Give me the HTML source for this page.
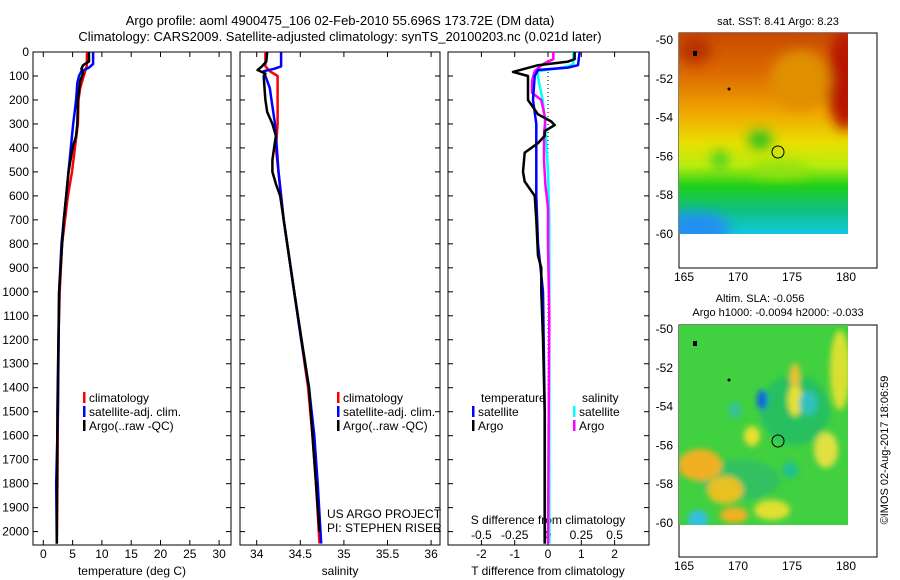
<!DOCTYPE html>
<html><head><meta charset="utf-8"><style>
body{margin:0;background:#fff;}
svg{display:block;font-family:"Liberation Sans",sans-serif;font-size:12px;}
</style></head><body>
<svg id="c" width="900" height="580" viewBox="0 0 900 580">
<defs>
<filter id="bl" x="-50%" y="-50%" width="200%" height="200%"><feGaussianBlur stdDeviation="6"/></filter>
<filter id="bl2" x="-50%" y="-50%" width="200%" height="200%"><feGaussianBlur stdDeviation="3"/></filter>
<clipPath id="m1"><rect x="679" y="33" width="169" height="201"/></clipPath>
<clipPath id="m2"><rect x="679" y="325" width="169" height="200"/></clipPath>
<linearGradient id="g1" x1="0" y1="0" x2="0" y2="1">
<stop offset="0" stop-color="#c84a00"/><stop offset="0.2" stop-color="#dc6a00"/>
<stop offset="0.4" stop-color="#f0a800"/><stop offset="0.55" stop-color="#e8e000"/>
<stop offset="0.66" stop-color="#b8ec10"/><stop offset="0.76" stop-color="#20d018"/>
<stop offset="0.88" stop-color="#10c080"/><stop offset="1" stop-color="#10c8e0"/></linearGradient>
</defs>
<g id="title">
<text x="340" y="25" text-anchor="middle" font-size="13">Argo profile: aoml 4900475_106 02-Feb-2010 55.696S 173.72E (DM data)</text>
<text x="340" y="41" text-anchor="middle" font-size="13">Climatology: CARS2009. Satellite-adjusted climatology: synTS_20100203.nc (0.021d later)</text>
</g>
<g id="axes"></g>
<g id="series"></g>
<g>
<text x="778" y="25" text-anchor="middle" font-size="11">sat. SST: 8.41  Argo: 8.23</text>
<rect x="679" y="33" width="198" height="235" fill="#fff" stroke="#000"/>
<g clip-path="url(#m1)">
<rect x="679" y="33" width="169" height="201" fill="url(#g1)"/>
<g filter="url(#bl)">
<ellipse cx="845" cy="80" rx="18" ry="50" fill="#b81800"/>
<ellipse cx="695" cy="50" rx="16" ry="14" fill="#b83000"/>
<ellipse cx="760" cy="140" rx="12" ry="9" fill="#20c020"/>
<ellipse cx="720" cy="160" rx="8" ry="10" fill="#40d020"/>
<ellipse cx="695" cy="228" rx="35" ry="16" fill="#2090f0"/>
<ellipse cx="800" cy="80" rx="30" ry="30" fill="#e09000"/>
<ellipse cx="780" cy="170" rx="30" ry="8" fill="#90e010"/>
</g></g>
<circle cx="778" cy="152" r="6" fill="none" stroke="#000"/>
<rect x="693" y="51" width="4" height="5" fill="#000"/>
<circle cx="729" cy="89" r="1.5" fill="#000"/>
</g>
<g>
<text x="760" y="302" text-anchor="middle" font-size="11">Altim. SLA: -0.056</text>
<text x="778" y="316" text-anchor="middle" font-size="11">Argo h1000: -0.0094 h2000: -0.033</text>
<rect x="679" y="325" width="198" height="232" fill="#fff" stroke="#000"/>
<g clip-path="url(#m2)">
<rect x="679" y="325" width="169" height="200" fill="#40d040"/>
<g filter="url(#bl2)">
<ellipse cx="795" cy="410" rx="35" ry="35" fill="#28c060"/>
<ellipse cx="740" cy="480" rx="40" ry="20" fill="#30c060"/>
<ellipse cx="700" cy="465" rx="22" ry="16" fill="#f0b020"/>
<ellipse cx="725" cy="490" rx="18" ry="14" fill="#e8c020"/>
<ellipse cx="734" cy="515" rx="14" ry="8" fill="#f0b020"/>
<ellipse cx="795" cy="400" rx="7" ry="16" fill="#e8e030"/>
<ellipse cx="795" cy="375" rx="5" ry="12" fill="#f0c030"/>
<ellipse cx="840" cy="370" rx="10" ry="40" fill="#d8e030"/>
<ellipse cx="762" cy="400" rx="5" ry="10" fill="#1060e0"/>
<ellipse cx="808" cy="403" rx="9" ry="12" fill="#30c0c0"/>
<ellipse cx="698" cy="520" rx="10" ry="10" fill="#30c0e0"/>
<ellipse cx="772" cy="510" rx="18" ry="10" fill="#e0e030"/>
<ellipse cx="752" cy="436" rx="8" ry="10" fill="#e8e030"/>
<ellipse cx="826" cy="450" rx="12" ry="18" fill="#e0e040"/>
<ellipse cx="790" cy="470" rx="8" ry="8" fill="#20c090"/>
<ellipse cx="735" cy="410" rx="6" ry="8" fill="#30c0a0"/>
</g></g>
<circle cx="778" cy="441" r="6" fill="none" stroke="#000"/>
<rect x="693" y="341" width="4" height="5" fill="#000"/>
<circle cx="729" cy="380" r="1.5" fill="#000"/>
</g>
<text transform="translate(888,450) rotate(-90)" text-anchor="middle" font-size="11">©IMOS 02-Aug-2017 18:06:59</text>
<text x="327" y="518">US ARGO PROJECT</text>
<text x="327" y="532">PI: STEPHEN RISER</text>
</svg>
<script>
const depthTicks=[0,100,200,300,400,500,600,700,800,900,1000,1100,1200,1300,1400,1500,1600,1700,1800,1900,2000];
const tempTicks=[0,5,10,15,20,25,30];
const salTicks=[34,34.5,35,35.5,36];
const tdTicks=[-2,-1,0,1,2];
const sdTicks=[-0.5,-0.25,0,0.25,0.5];
const lonTicks=[165,170,175,180];
const latTicks=[-50,-52,-54,-56,-58,-60];

const tClimD=[0,60,100,150,200,300,400,500,600,700,800,1000,1200,1500,1800,2050];
const tClimV=[7.45,7.4,6.9,6.3,6.0,5.9,5.4,4.9,4.2,3.7,3.2,2.8,2.6,2.5,2.4,2.3];
const tSatD=[0,50,65,80,100,130,200,300,400,500,600,700,800,1000,1500,1800,2050];
const tSatV=[8.5,8.5,7.8,6.5,6.1,5.8,5.6,5.1,4.7,4.3,3.9,3.5,3.1,2.7,2.5,2.2,2.3];
const tArgD=[0,40,55,70,90,120,200,300,350,400,500,600,700,800,1000,1500,2050];
const tArgV=[7.8,7.8,6.8,6.5,6.8,6.3,5.9,5.8,5.6,5.0,4.3,3.9,3.5,3.2,2.7,2.4,2.3];

const sClimD=[0,60,80,100,300,400,500,600,700,800,1000,1200,1400,1600,1800,2050];
const sClimV=[34.10,34.10,34.15,34.24,34.24,34.22,34.25,34.28,34.31,34.35,34.43,34.51,34.59,34.64,34.68,34.72];
const sSatD=[0,60,70,80,100,150,200,300,400,500,600,700,800,1000,1200,1400,1600,1800,2050];
const sSatV=[34.28,34.28,34.20,34.08,34.10,34.15,34.17,34.21,34.23,34.25,34.28,34.31,34.35,34.43,34.51,34.60,34.66,34.70,34.74];
const sArgD=[0,40,60,75,90,100,150,200,250,300,350,400,450,500,550,600,800,1000,1400,2000];
const sArgV=[34.12,34.11,34.06,34.01,34.10,34.08,34.09,34.10,34.12,34.18,34.22,34.20,34.18,34.18,34.22,34.27,34.35,34.43,34.60,34.72];

const dTArgD=[0,30,40,55,83,100,150,200,260,290,305,330,350,380,420,500,540,600,700,850,900,1000,1200,1500,2050];
const dTArgV=[0.8,0.8,0.6,-0.3,-1.05,-0.6,-0.6,-0.6,-0.3,0.1,0.2,-0.1,-0.1,-0.3,-0.7,-0.75,-0.7,-0.4,-0.35,-0.3,-0.2,-0.2,-0.15,-0.1,-0.1];
const dTSatD=[0,55,65,75,100,200,300,400,600,800,1000,1500,2050];
const dTSatV=[0.95,0.9,0.6,-0.3,-0.4,-0.45,-0.35,-0.35,-0.35,-0.3,-0.15,-0.1,-0.1];
const dSArgD=[0,30,45,60,80,120,170,200,280,350,450,550,650,800,1100,2050];
const dSArgV=[0.04,0.04,-0.02,-0.06,-0.1,-0.12,-0.12,-0.05,-0.02,-0.03,-0.03,-0.02,0,0,0.01,0];
const dSSatD=[0,50,60,70,80,120,200,300,500,700,2050];
const dSSatV=[0.19,0.19,0.15,0.05,-0.08,-0.07,-0.04,-0.02,0,0.01,0.01];

const NS='http://www.w3.org/2000/svg';
const yD=d=>52+d*0.2398;
const xT=v=>43.3+v*5.86;
const xS=v=>256.7+(v-34)*87.2;
const xDT=v=>548+v*33.3;
const xDS=v=>548+v*133.2;
const xLon=v=>684+(v-165)*10.8;
const yLat1=v=>40+(-50-v)*19.4;
const yLat2=v=>329+(-50-v)*19.4;
function mk(tag,at,parent){const e=document.createElementNS(NS,tag);for(const k in at)e.setAttribute(k,at[k]);(parent||document.getElementById('axes')).appendChild(e);return e;}
function txt(x,y,s,anchor,parent){const e=mk('text',{x:x,y:y,'text-anchor':anchor||'middle'},parent);e.textContent=s;return e;}
const panels=[[33,231],[240,440],[448,649]];
panels.forEach((p,i)=>{
  const r=mk('rect',{x:p[0],y:52,width:p[1]-p[0],height:493,fill:'none',stroke:'#000'});
  
  
  depthTicks.forEach(d=>{mk('line',{x1:p[0],x2:p[0]+5,y1:yD(d),y2:yD(d),stroke:'#000'});mk('line',{x1:p[1],x2:p[1]-5,y1:yD(d),y2:yD(d),stroke:'#000'});});
});
depthTicks.forEach(d=>{const t=txt(29,yD(d)+4,String(d),'end');});
function xticks(arr,f,y){arr.forEach(v=>{const x=f(v);mk('line',{x1:x,x2:x,y1:52,y2:57,stroke:'#000'});mk('line',{x1:x,x2:x,y1:545,y2:540,stroke:'#000'});const t=txt(x,y,String(v));});}
xticks(tempTicks,xT,558);
xticks(salTicks,xS,558);
xticks(tdTicks,xDT,558);
sdTicks.forEach(v=>{const t=txt(xDS(v),539,String(v));});
let t;
t=txt(132,575,'temperature (deg C)');
t=txt(340,575,'salinity');
t=txt(548,575,'T difference from climatology');
t=txt(548,524,'S difference from climatology');
mk('line',{x1:548,x2:548,y1:52,y2:545,stroke:'#000','stroke-dasharray':'1,3'});
[[yLat1,33,268,281],[yLat2,325,557,570]].forEach((m,i)=>{
  latTicks.forEach(v=>{const y=m[0](v);mk('line',{x1:877,x2:872,y1:y,y2:y,stroke:'#000'});const tt=txt(673,y+4,String(v),'end');});
  lonTicks.forEach(v=>{const x=xLon(v);mk('line',{x1:x,x2:x,y1:m[1],y2:m[1]+4,stroke:'#000'});mk('line',{x1:x,x2:x,y1:m[2],y2:m[2]-4,stroke:'#000'});const tt=txt(x,m[3],String(v));});
});
const sg=document.getElementById('series');
function line(D,V,fx,col,name){
  let pts=D.map((d,i)=>fx(V[i]).toFixed(1)+','+yD(d).toFixed(1)).join(' ');
  const p=mk('polyline',{points:pts,fill:'none',stroke:col,'stroke-width':2.5,'stroke-linejoin':'round'},sg);
  
  
}
line(tClimD,tClimV,xT,'#ff0000','temp-climatology-line');
line(tSatD,tSatV,xT,'#0000ff','temp-satellite-line');
line(tArgD,tArgV,xT,'#000','temp-argo-line');
line(sClimD,sClimV,xS,'#ff0000','sal-climatology-line');
line(sSatD,sSatV,xS,'#0000ff','sal-satellite-line');
line(sArgD,sArgV,xS,'#000','sal-argo-line');
line(dSSatD,dSSatV,xDS,'#00ffff','sdiff-satellite-line');
line(dSArgD,dSArgV,xDS,'#ff00ff','sdiff-argo-line');
line(dTSatD,dTSatV,xDT,'#0000ff','tdiff-satellite-line');
line(dTArgD,dTArgV,xDT,'#000','tdiff-argo-line');
function leg(x,y,col,label,name){
  const g=mk('g',{},sg);
  
  
  mk('rect',{x:x,y:y-10,width:2.5,height:11,fill:col},g);
  txt(x+6,y,label,'start',g);
}
leg(83,402,'#ff0000','climatology','legend-climatology');
leg(83,416,'#0000ff','satellite-adj. clim.','legend-satellite');
leg(83,430,'#000','Argo(..raw -QC)','legend-argo');
leg(337,402,'#ff0000','climatology','legend-climatology-2');
leg(337,416,'#0000ff','satellite-adj. clim.','legend-satellite-2');
leg(337,430,'#000','Argo(..raw -QC)','legend-argo-2');
t=txt(481,402,'temperature','start',sg);
t=txt(582,402,'salinity','start',sg);
leg(472,416,'#0000ff','satellite','legend-t-satellite');
leg(472,430,'#000','Argo','legend-t-argo');
leg(573,416,'#00ffff','satellite','legend-s-satellite');
leg(573,430,'#ff00ff','Argo','legend-s-argo');
</script>
</body></html>
